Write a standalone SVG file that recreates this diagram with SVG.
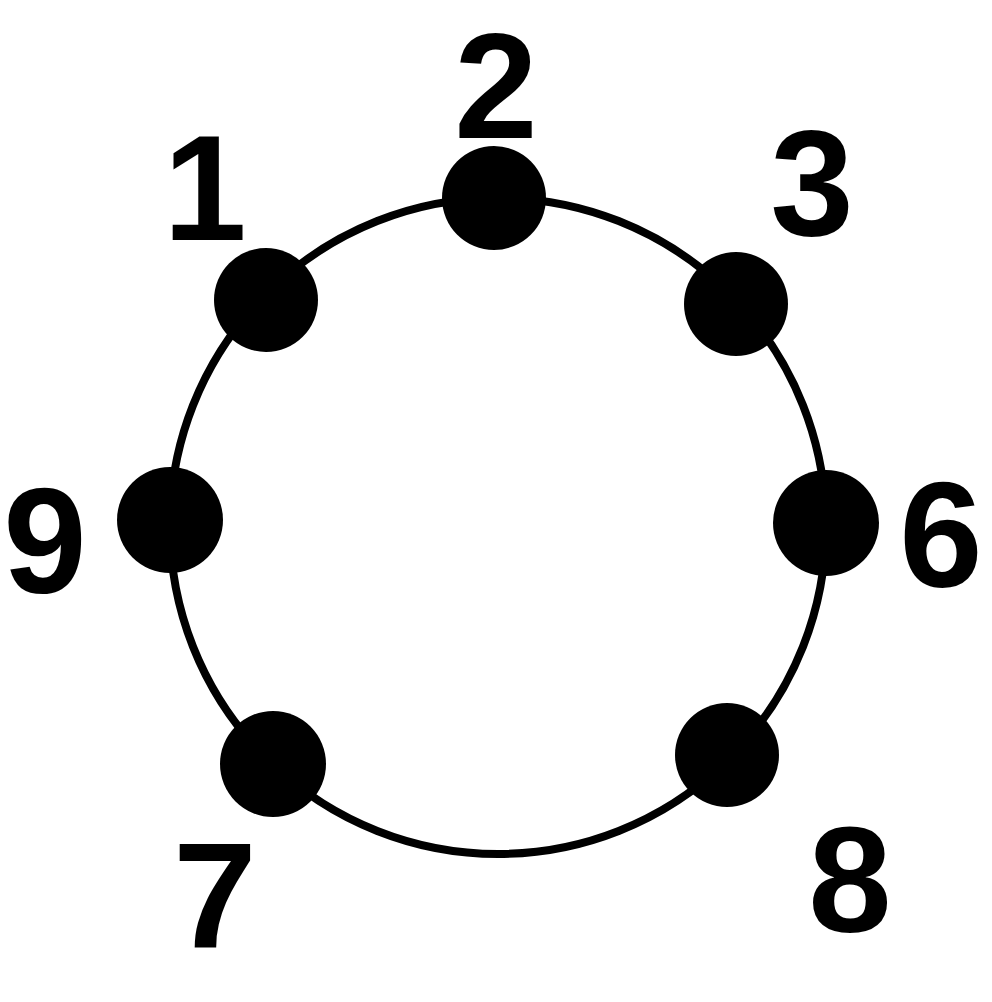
<svg xmlns="http://www.w3.org/2000/svg" width="992" height="1002" viewBox="0 0 992 1002">
<style>
.lbl{font-family:"Liberation Sans",Arial,sans-serif;font-weight:bold;font-size:150px;fill:#000;text-anchor:middle}
.dot{fill:#000}
</style>
<rect width="992" height="1002" fill="#fff"/>
<g id="connectors">
<circle cx="498" cy="526" r="328" fill="none" stroke="#000" stroke-width="8"/>
</g>
<g id="n1"><circle class="dot" cx="266" cy="300" r="52"/><text class="lbl" x="205" y="240">1</text></g>
<g id="n2"><circle class="dot" cx="494" cy="198" r="52"/><text class="lbl" x="496" y="138">2</text></g>
<g id="n3"><circle class="dot" cx="736" cy="304" r="52"/><text class="lbl" x="812" y="235">3</text></g>
<g id="n9"><circle class="dot" cx="170" cy="520" r="53"/><text class="lbl" x="45" y="593">9</text></g>
<g id="n6"><circle class="dot" cx="826" cy="523" r="53"/><text class="lbl" x="941" y="587">6</text></g>
<g id="n7"><circle class="dot" cx="273" cy="764" r="53"/><text class="lbl" x="215" y="948">7</text></g>
<g id="n8"><circle class="dot" cx="727" cy="755" r="52"/><text class="lbl" x="850" y="932">8</text></g>
</svg>
